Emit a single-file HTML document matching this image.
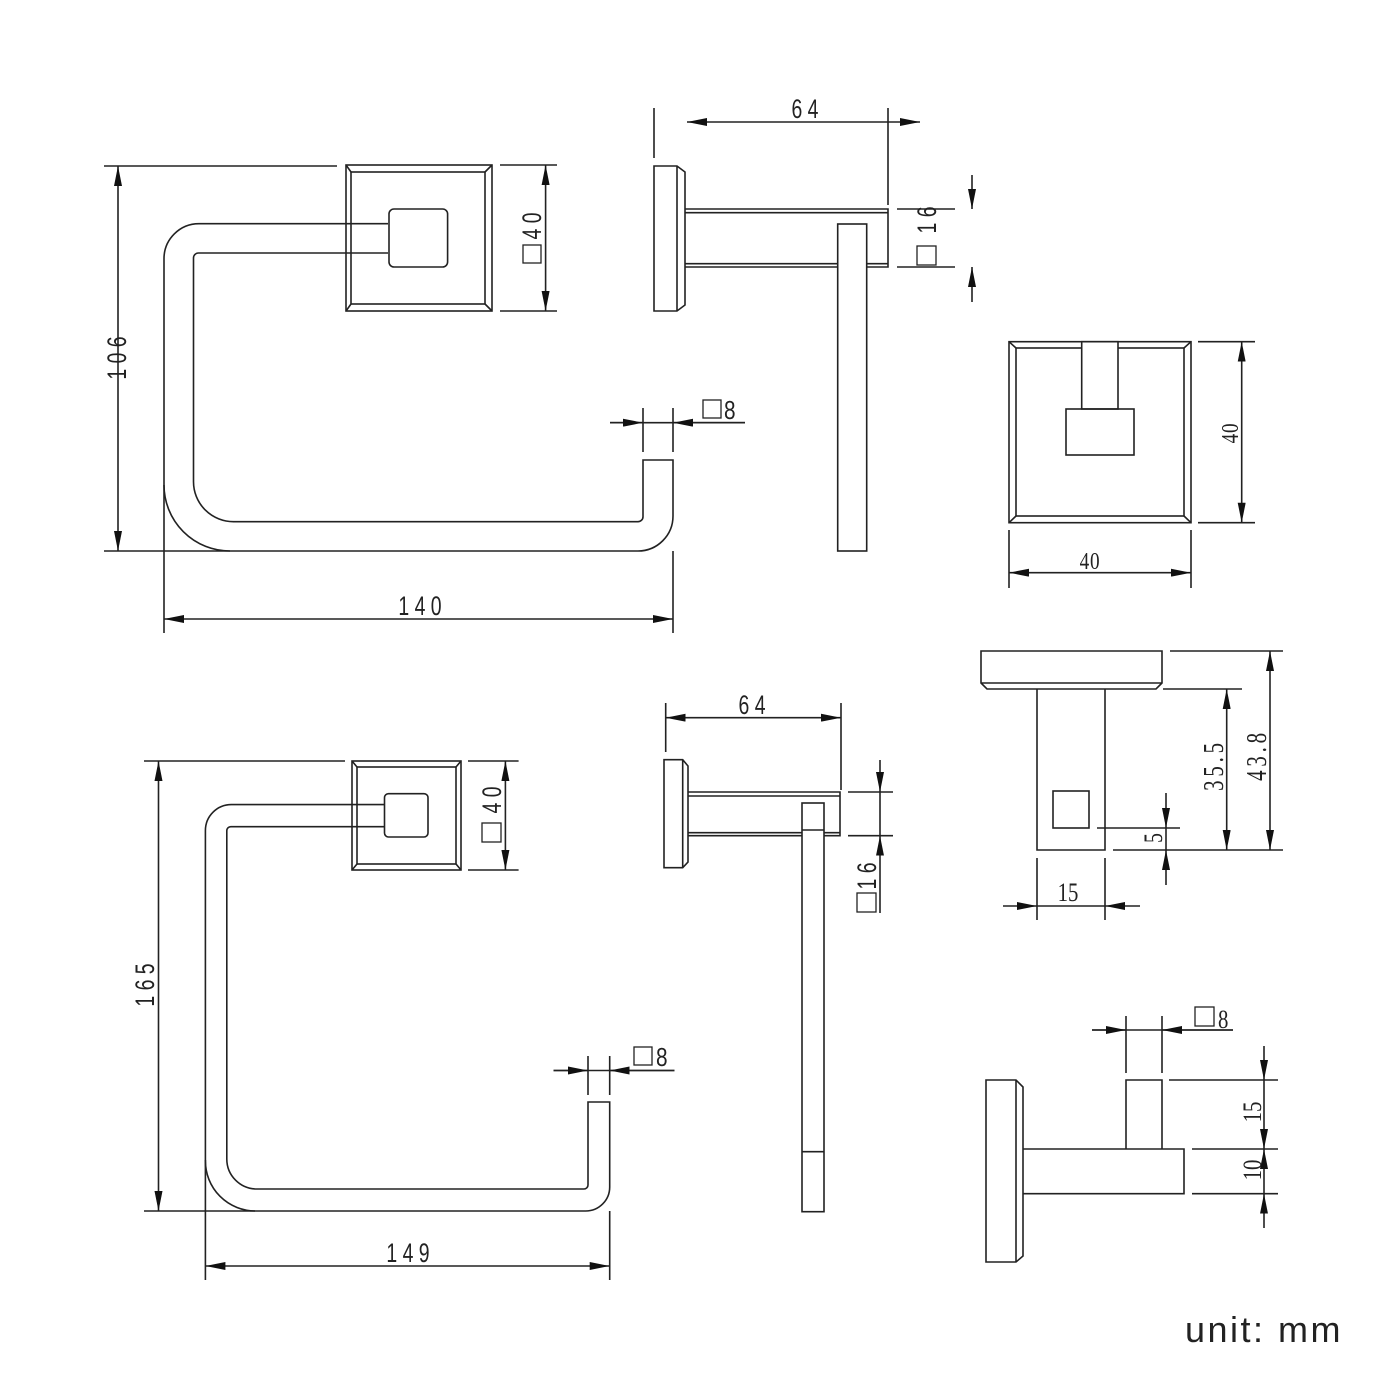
<!DOCTYPE html>
<html><head><meta charset="utf-8"><style>
html,body{margin:0;padding:0;background:#fff;}
svg{display:block;}
text{font-family:"Liberation Sans",sans-serif;fill:#222;}
.s{font-family:"Liberation Serif",serif;}
</style></head><body>
<svg width="1400" height="1400" viewBox="0 0 1400 1400" xmlns="http://www.w3.org/2000/svg">
<defs>
<marker id="a" viewBox="0 0 20 8" refX="20" refY="4" markerUnits="userSpaceOnUse" markerWidth="20" markerHeight="8" orient="auto-start-reverse"><path d="M0,0 L20,4 L0,8 z" fill="#111"/></marker>
</defs>
<g fill="none" stroke="#222" stroke-width="1.6">

<!-- ===== TOP RING ===== -->
<rect x="346" y="165" width="146" height="146"/>
<rect x="351" y="172" width="134" height="132"/>
<path d="M346,165 L351,172 M492,165 L485,172 M346,311 L351,304 M492,311 L485,304"/>
<path d="M388,223.7 L199,223.7 A35,35 0 0 0 164,258.7 L164,485 A66,66 0 0 0 230,551 L638,551 A35,35 0 0 0 673,516 L673,460 L643,460 L643,516.7 A5,5 0 0 1 638,521.7 L233.5,521.7 A40,40 0 0 1 193.5,481.7 L193.5,258 A5,5 0 0 1 198.5,253 L388,253"/>
<rect x="389" y="209" width="58.6" height="58" rx="5"/>
<path d="M104,166 L337,166 M104,551 L230,551"/>
<line x1="118" y1="166" x2="118" y2="551" marker-start="url(#a)" marker-end="url(#a)"/>
<path d="M164,485 L164,633 M673,551 L673,633"/>
<line x1="164" y1="619" x2="673" y2="619" marker-start="url(#a)" marker-end="url(#a)"/>
<path d="M643,408 L643,452 M673,408 L673,452 M610,422.7 L745,422.7"/>
<line x1="610" y1="422.7" x2="643" y2="422.7" marker-end="url(#a)"/>
<line x1="745" y1="422.7" x2="673" y2="422.7" marker-end="url(#a)"/>
<rect x="703" y="400" width="18" height="18" stroke-width="1.3"/>
<path d="M500,165 L557,165 M500,311 L557,311"/>
<line x1="545.6" y1="165" x2="545.6" y2="311" marker-start="url(#a)" marker-end="url(#a)"/>
<rect x="523" y="245" width="18" height="18" stroke-width="1.3"/>

<!-- ===== TOP SIDE VIEW ===== -->
<path d="M654,166 L677,166 L685,172 L685,305 L677,311 L654,311 Z M677,166 L677,311"/>
<path d="M685,209 L888,209 L888,267 L685,267 M685,212.7 L888,212.7 M685,263.7 L888,263.7"/>
<rect x="837.7" y="224" width="29" height="327" fill="#fff"/>
<path d="M654,108 L654,158 M888,108 L888,205"/>
<line x1="707" y1="122" x2="898" y2="122"/>
<line x1="707" y1="122" x2="687" y2="122" marker-end="url(#a)"/>
<line x1="898" y1="122" x2="920" y2="122" marker-end="url(#a)"/>
<path d="M897,209 L955,209 M897,267 L955,267"/>
<line x1="972" y1="175" x2="972" y2="209" marker-end="url(#a)"/>
<line x1="972" y1="302" x2="972" y2="267" marker-end="url(#a)"/>
<rect x="917" y="246" width="19" height="19" stroke-width="1.3"/>

<!-- ===== TOP RIGHT FRONT ===== -->
<rect x="1009" y="341.7" width="182" height="181"/>
<rect x="1016" y="348" width="168" height="168"/>
<path d="M1009,341.7 L1016,348 M1191,341.7 L1184,348 M1009,522.7 L1016,516 M1191,522.7 L1184,516"/>
<rect x="1081.7" y="341.7" width="36.3" height="67.3" fill="#fff"/>
<rect x="1066" y="409" width="68" height="46"/>
<path d="M1198,341.7 L1255,341.7 M1198,522.7 L1255,522.7"/>
<line x1="1241.7" y1="341.7" x2="1241.7" y2="522.7" marker-start="url(#a)" marker-end="url(#a)"/>
<path d="M1009,530 L1009,588 M1191,530 L1191,588"/>
<line x1="1009" y1="572.7" x2="1191" y2="572.7" marker-start="url(#a)" marker-end="url(#a)"/>

<!-- ===== HOOK SIDE ===== -->
<path d="M981,651 L1162,651 L1162,683 L1156,689 L987,689 L981,683 Z M981,683 L1162,683"/>
<path d="M1037,689 L1037,850 L1105,850 L1105,689"/>
<rect x="1053" y="791" width="36" height="37"/>
<path d="M1170,651 L1283,651 M1163,689 L1242,689 M1113,850 L1283,850 M1097,828 L1180,828"/>
<line x1="1270" y1="651" x2="1270" y2="850" marker-start="url(#a)" marker-end="url(#a)"/>
<line x1="1226.7" y1="689" x2="1226.7" y2="850" marker-start="url(#a)" marker-end="url(#a)"/>
<line x1="1166" y1="793" x2="1166" y2="828" marker-end="url(#a)"/>
<line x1="1166" y1="885" x2="1166" y2="850" marker-end="url(#a)"/>
<path d="M1166,828 L1166,850"/>
<path d="M1037,858 L1037,920 M1105,858 L1105,920 M1037,906 L1105,906"/>
<line x1="1003" y1="906" x2="1037" y2="906" marker-end="url(#a)"/>
<line x1="1140" y1="906" x2="1105" y2="906" marker-end="url(#a)"/>

<!-- ===== HOOK BOTTOM ===== -->
<path d="M986,1080 L1016,1080 L1023,1087 L1023,1256 L1016,1262 L986,1262 Z M1016,1080 L1016,1262"/>
<path d="M1023,1149 L1184,1149 L1184,1193.7 L1023,1193.7"/>
<path d="M1126,1149 L1126,1080 L1162,1080 L1162,1149"/>
<path d="M1126,1016 L1126,1073 M1162,1016 L1162,1073 M1092,1030 L1233,1030"/>
<line x1="1092" y1="1030" x2="1126" y2="1030" marker-end="url(#a)"/>
<line x1="1233" y1="1030" x2="1162" y2="1030" marker-end="url(#a)"/>
<rect x="1195" y="1007" width="19" height="19" stroke-width="1.3"/>
<path d="M1169,1080 L1278,1080 M1192,1149 L1278,1149 M1192,1193.7 L1278,1193.7"/>
<line x1="1264" y1="1046" x2="1264" y2="1080" marker-end="url(#a)"/>
<line x1="1264" y1="1080" x2="1264" y2="1149" marker-end="url(#a)"/>
<line x1="1264" y1="1193.7" x2="1264" y2="1149" marker-end="url(#a)"/>
<line x1="1264" y1="1228" x2="1264" y2="1193.7" marker-end="url(#a)"/>

<!-- ===== BOTTOM RING ===== -->
<rect x="352" y="761" width="109" height="109"/>
<rect x="357" y="767" width="99" height="97"/>
<path d="M352,761 L357,767 M461,761 L456,767 M352,870 L357,864 M461,870 L456,864"/>
<path d="M384.5,804.6 L231.4,804.6 A26,26 0 0 0 205.4,830.6 L205.4,1161 A50,50 0 0 0 255.4,1211 L585.7,1211 A24,24 0 0 0 609.7,1187 L609.7,1102 L588,1102 L588,1185 A4,4 0 0 1 584,1189 L256.8,1189 A30,30 0 0 1 226.8,1159 L226.8,830.7 A4,4 0 0 1 230.8,826.7 L384.5,826.7"/>
<rect x="384.5" y="793.7" width="43.5" height="43.3" rx="4"/>
<path d="M144,761 L345,761 M144,1211 L255,1211"/>
<line x1="158.5" y1="761" x2="158.5" y2="1211" marker-start="url(#a)" marker-end="url(#a)"/>
<path d="M205.4,1160 L205.4,1280 M609.7,1211 L609.7,1280"/>
<line x1="205.4" y1="1266" x2="609.7" y2="1266" marker-start="url(#a)" marker-end="url(#a)"/>
<path d="M588,1056 L588,1095 M609.7,1056 L609.7,1095 M553.5,1070.5 L674.5,1070.5"/>
<line x1="553.5" y1="1070.5" x2="588" y2="1070.5" marker-end="url(#a)"/>
<line x1="674.5" y1="1070.5" x2="609.7" y2="1070.5" marker-end="url(#a)"/>
<rect x="634" y="1047" width="18" height="18" stroke-width="1.3"/>
<path d="M468,761 L518.6,761 M468,870 L518.6,870"/>
<line x1="505.4" y1="761" x2="505.4" y2="870" marker-start="url(#a)" marker-end="url(#a)"/>
<rect x="482" y="823" width="19" height="19" stroke-width="1.3"/>

<!-- ===== BOTTOM SIDE VIEW ===== -->
<path d="M664,759.7 L682.7,759.7 L688,766 L688,862 L682.7,867.7 L664,867.7 Z M682.7,759.7 L682.7,867.7"/>
<path d="M688,792 L840,792 L840,835.7 L688,835.7 M688,796 L840,796 M688,832.7 L840,832.7"/>
<rect x="802" y="803" width="22" height="408.7" fill="#fff"/>
<path d="M802,830 L824,830 M802,1151.7 L824,1151.7"/>
<path d="M665.7,703 L665.7,752 M841,703 L841,790"/>
<line x1="665.7" y1="717.7" x2="841" y2="717.7" marker-start="url(#a)" marker-end="url(#a)"/>
<path d="M848,792 L893,792 M848,835.7 L893,835.7 M880,792 L880,835.7"/>
<line x1="880" y1="760" x2="880" y2="792" marker-end="url(#a)"/>
<line x1="880" y1="913" x2="880" y2="835.7" marker-end="url(#a)"/>
<rect x="857" y="893" width="19" height="19" stroke-width="1.3"/>
</g>

<!-- TEXT -->
<g font-size="27">
<text x="420" y="615" text-anchor="middle" transform="translate(420 0) scale(0.72 1) translate(-420 0)">1 4 0</text>
<text transform="translate(126 358) rotate(-90) scale(0.72 1)" text-anchor="middle">1 0 6</text>
<text transform="translate(541 226) rotate(-90) scale(0.72 1)" text-anchor="middle">4 0</text>
<text x="724" y="419" font-size="26" transform="translate(724 0) scale(0.8 1) translate(-724 0)">8</text>
<text x="805" y="118" text-anchor="middle" transform="translate(805 0) scale(0.72 1) translate(-805 0)">6 4</text>
<text transform="translate(936 220) rotate(-90) scale(0.72 1)" text-anchor="middle">1 6</text>
<text x="752" y="714" text-anchor="middle" transform="translate(752 0) scale(0.72 1) translate(-752 0)">6 4</text>
<text transform="translate(876 876) rotate(-90) scale(0.72 1)" text-anchor="middle">1 6</text>
<text transform="translate(154 985) rotate(-90) scale(0.72 1)" text-anchor="middle">1 6 5</text>
<text x="408" y="1262" text-anchor="middle" transform="translate(408 0) scale(0.72 1) translate(-408 0)">1 4 9</text>
<text transform="translate(501 800) rotate(-90) scale(0.72 1)" text-anchor="middle">4 0</text>
<text x="656" y="1066" font-size="26" transform="translate(656 0) scale(0.8 1) translate(-656 0)">8</text>
</g>
<g>
<text class="s" font-size="24" transform="translate(1238 433) rotate(-90) scale(0.8 1)" text-anchor="middle" letter-spacing="1">40</text>
<text class="s" font-size="24" x="1090" y="569" text-anchor="middle" letter-spacing="1" transform="translate(1090 0) scale(0.8 1) translate(-1090 0)">40</text>
<text class="s" font-size="28" transform="translate(1223 765) rotate(-90) scale(0.75 1)" text-anchor="middle" letter-spacing="5">35.5</text>
<text class="s" font-size="28" transform="translate(1266 755) rotate(-90) scale(0.75 1)" text-anchor="middle" letter-spacing="5">43.8</text>
<text class="s" font-size="26" transform="translate(1162 838) rotate(-90) scale(0.75 1)" text-anchor="middle">5</text>
<text class="s" font-size="26" x="1068" y="901" text-anchor="middle" transform="translate(1068 0) scale(0.8 1) translate(-1068 0)">15</text>
<text class="s" font-size="26" x="1218" y="1028" transform="translate(1218 0) scale(0.8 1) translate(-1218 0)">8</text>
<text class="s" font-size="26" transform="translate(1261 1112) rotate(-90) scale(0.8 1)" text-anchor="middle">15</text>
<text class="s" font-size="26" transform="translate(1261 1170) rotate(-90) scale(0.8 1)" text-anchor="middle">10</text>
</g>
<text x="1185" y="1342" font-size="36" letter-spacing="2.5" fill="#222">unit: mm</text>
</svg>
</body></html>
